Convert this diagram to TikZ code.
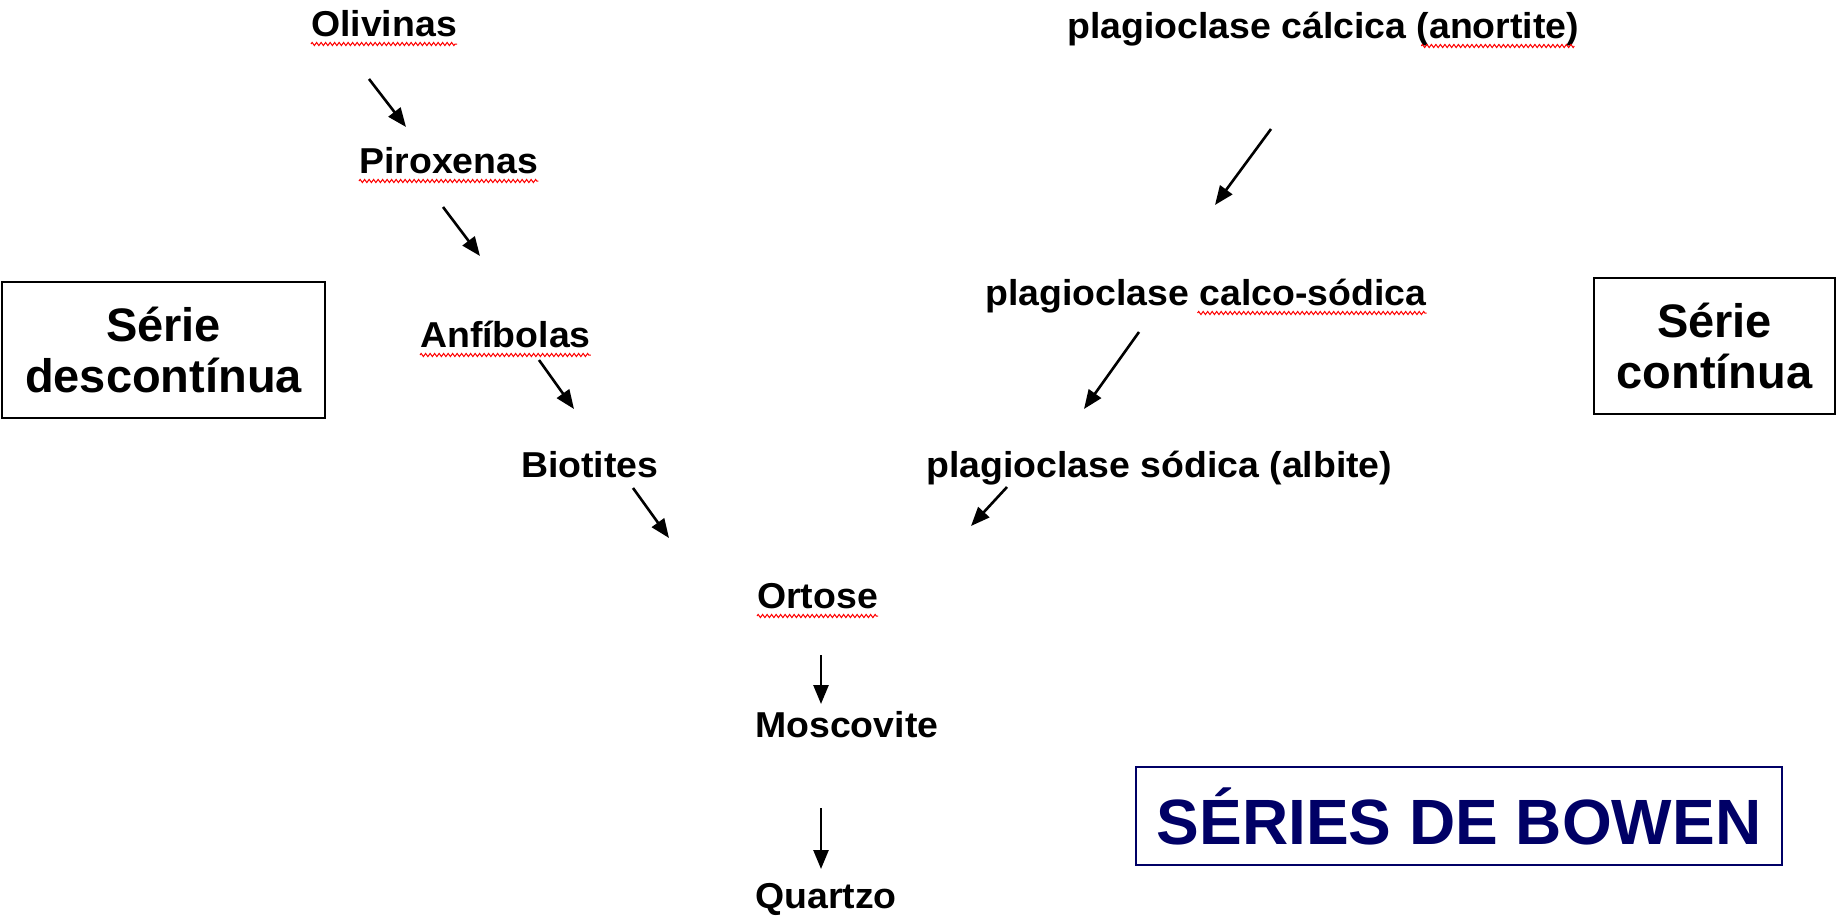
\documentclass[tikz,border=0pt]{standalone}
\usepackage{fontspec}
\setmainfont{Liberation Sans}
\newfontfamily\lblfont{Liberation Sans}[FakeStretch=1.04]
\usetikzlibrary{arrows.meta,decorations.pathmorphing}
\definecolor{bowennavy}{RGB}{0,0,102}
\tikzset{
  lbl/.style={anchor=base west, inner sep=0pt, font=\lblfont\bfseries\fontsize{36}{40}\selectfont},
  arr/.style={line width=2.6pt, -{Triangle[length=19pt,width=15pt]}},
  seriebox/.style={draw, line width=2pt, align=center, inner sep=0pt,
    font=\bfseries\fontsize{47}{51}\selectfont},
  squiggle/.style={red, line width=1pt, decorate,
    decoration={zigzag, amplitude=1.6pt, segment length=4.5pt}}
}
\begin{document}
\begin{tikzpicture}[x=1pt,y=-1pt]
\useasboundingbox (0,0) rectangle (1841,916);
% left series
\node[lbl] (oliv) at (311,36) {Olivinas};
\node[lbl] (pirox) at (359,173) {Piroxenas};
\node[lbl] (anfi) at (420,347) {Anfíbolas};
\node[lbl] (bio) at (521,477) {Biotites};
\node[lbl] (ort) at (757,608) {Ortose};
\node[lbl] (mosc) at (755,737) {Moscovite};
\node[lbl] (quar) at (755,908) {Quartzo};
% right series
\node[lbl] (pcal) at (1067,38) {plagioclase cálcica (anortite)};
\node[lbl] (pcs) at (985,305) {plagioclase calco-sódica};
\node[lbl] (psod) at (926,477) {plagioclase sódica (albite)};
% boxes
\node[seriebox, minimum width=323pt, minimum height=136pt] (desc) at (163.5,350) {Série\\descontínua};
\node[seriebox, minimum width=241pt, minimum height=136pt] (cont) at (1714.5,346) {Série\\contínua};
\node[draw=bowennavy, line width=2pt, text=bowennavy, inner sep=0pt,
  minimum width=646pt, minimum height=98pt,
  font=\bfseries\fontsize{64}{70}\selectfont] (bowen) at (1459,816) {SÉRIES DE BOWEN};
% arrow end points
\coordinate (a1s) at (369,79);  \coordinate (a1e) at (406,127);
\coordinate (a2s) at (443,207); \coordinate (a2e) at (480,256);
\coordinate (a3s) at (539,360); \coordinate (a3e) at (574,409);
\coordinate (a4s) at (633,488); \coordinate (a4e) at (669,538);
\coordinate (a5s) at (821,655); \coordinate (a5e) at (821,704);
\coordinate (a6s) at (821,808); \coordinate (a6e) at (821,869);
\coordinate (b1s) at (1271,129); \coordinate (b1e) at (1215,205);
\coordinate (b2s) at (1139,332); \coordinate (b2e) at (1084,409);
\coordinate (b3s) at (1007,487); \coordinate (b3e) at (971,526);
\draw[arr] (a1s) -- (a1e);
\draw[arr] (a2s) -- (a2e);
\draw[arr] (a3s) -- (a3e);
\draw[arr] (a4s) -- (a4e);
\draw[arr] (a5s) -- (a5e);
\draw[arr] (a6s) -- (a6e);
\draw[arr] (b1s) -- (b1e);
\draw[arr] (b2s) -- (b2e);
\draw[arr] (b3s) -- (b3e);
% spell-check squiggles
\draw[squiggle] ([yshift=-8pt]oliv.base west) -- ([yshift=-8pt]oliv.base east);
\draw[squiggle] ([yshift=-8pt]pirox.base west) -- ([yshift=-8pt]pirox.base east);
\draw[squiggle] ([yshift=-8pt]anfi.base west) -- ([yshift=-8pt]anfi.base east);
\draw[squiggle] ([yshift=-8pt]ort.base west) -- ([yshift=-8pt]ort.base east);
\draw[squiggle] ([xshift=-158pt,yshift=-8pt]pcal.base east) -- ([xshift=-5pt,yshift=-8pt]pcal.base east);
\draw[squiggle] ([xshift=-229pt,yshift=-8pt]pcs.base east) -- ([yshift=-8pt]pcs.base east);
\end{tikzpicture}
\end{document}
